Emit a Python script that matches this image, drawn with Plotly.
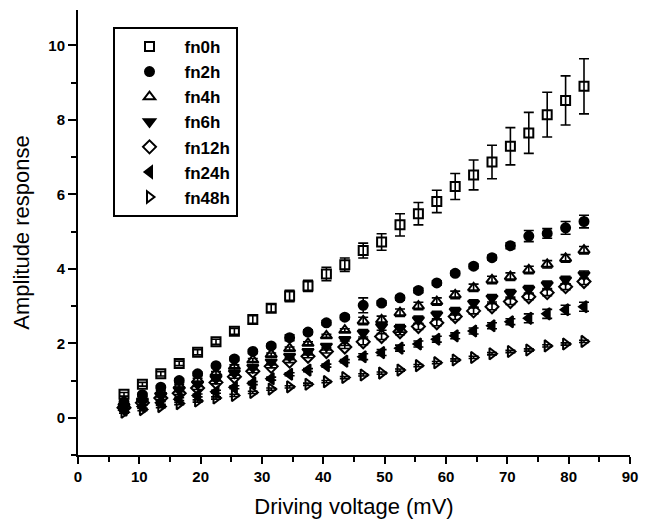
import plotly.graph_objects as go

voltage = [7.5, 10.5, 13.5, 16.5, 19.5, 22.5, 25.5, 28.5, 31.5, 34.5, 37.5, 40.5, 43.5,
           46.5, 49.5, 52.5, 55.5, 58.5, 61.5, 64.5, 67.5, 70.5, 73.5, 76.5, 79.5, 82.5]

fn0h = [0.63, 0.90, 1.18, 1.46, 1.76, 2.04, 2.32, 2.64, 2.94, 3.27, 3.54, 3.86, 4.11,
        4.49, 4.72, 5.18, 5.48, 5.81, 6.21, 6.52, 6.87, 7.29, 7.65, 8.14, 8.52, 8.90]
fn0h_err = [0.05, 0.05, 0.06, 0.06, 0.07, 0.07, 0.08, 0.10, 0.10, 0.15, 0.15, 0.18, 0.18,
            0.20, 0.22, 0.30, 0.30, 0.30, 0.35, 0.40, 0.45, 0.50, 0.55, 0.60, 0.66, 0.74]

fn2h = [0.42, 0.62, 0.82, 1.00, 1.18, 1.40, 1.58, 1.78, 1.93, 2.15, 2.30, 2.55, 2.70,
        3.02, 3.08, 3.22, 3.42, 3.62, 3.88, 4.07, 4.30, 4.62, 4.88, 4.95, 5.10, 5.27]
fn2h_err = [0.04, 0.04, 0.04, 0.05, 0.05, 0.05, 0.05, 0.05, 0.05, 0.08, 0.06, 0.06, 0.06,
            0.20, 0.06, 0.06, 0.06, 0.06, 0.06, 0.06, 0.06, 0.08, 0.15, 0.13, 0.17, 0.17]

fn4h = [0.36, 0.53, 0.70, 0.86, 1.02, 1.20, 1.38, 1.55, 1.70, 1.86, 2.00, 2.20, 2.35,
        2.60, 2.63, 2.82, 3.00, 3.12, 3.30, 3.49, 3.70, 3.79, 3.97, 4.12, 4.28, 4.50]
fn4h_err = [0.04] * 13 + [0.10] * 13

fn6h = [0.30, 0.45, 0.60, 0.75, 0.90, 1.05, 1.20, 1.35, 1.50, 1.65, 1.78, 1.92, 2.10,
        2.27, 2.45, 2.40, 2.63, 2.76, 2.86, 3.07, 3.21, 3.34, 3.45, 3.57, 3.70, 3.84]
fn6h_err = [0.04] * 13 + [0.10] * 13

fn12h = [0.27, 0.40, 0.53, 0.66, 0.80, 0.95, 1.10, 1.25, 1.38, 1.52, 1.65, 1.78, 1.90,
         2.04, 2.18, 2.31, 2.45, 2.55, 2.72, 2.87, 2.98, 3.12, 3.25, 3.36, 3.52, 3.66]
fn12h_err = [0.04] * 13 + [0.08] * 13

fn24h = [0.20, 0.30, 0.40, 0.50, 0.60, 0.70, 0.82, 0.93, 1.05, 1.17, 1.28, 1.40, 1.52,
         1.64, 1.75, 1.87, 1.98, 2.11, 2.20, 2.33, 2.47, 2.58, 2.67, 2.79, 2.90, 2.98]
fn24h_err = [0.04] * 13 + [0.08] * 9 + [0.12] * 4

fn48h = [0.15, 0.22, 0.30, 0.38, 0.45, 0.53, 0.60, 0.68, 0.77, 0.83, 0.90, 0.97, 1.08,
         1.15, 1.20, 1.28, 1.40, 1.48, 1.55, 1.62, 1.72, 1.78, 1.82, 1.93, 1.98, 2.05]
fn48h_err = [0.03] * 26

series_names = ["fn0h", "fn2h", "fn4h", "fn6h", "fn12h", "fn24h", "fn48h"]
series_values = [fn0h, fn2h, fn4h, fn6h, fn12h, fn24h, fn48h]
series_errors = [fn0h_err, fn2h_err, fn4h_err, fn6h_err, fn12h_err, fn24h_err, fn48h_err]
symbols = ["square-open", "circle", "triangle-up-open", "triangle-down",
           "diamond-open", "triangle-left", "triangle-right-open"]
sizes = [9, 9, 10, 10, 10, 10, 10]

fig = go.Figure()
for i, (name, vals, errs, sym, sz) in enumerate(zip(series_names, series_values,
                                                    series_errors, symbols, sizes)):
    fig.add_trace(go.Scatter(
        x=voltage, y=vals, name=name, mode="markers",
        marker=dict(symbol=sym, size=sz, color="black",
                    line=dict(color="black", width=2)),
        error_y=dict(type="data", array=errs, visible=True,
                     color="black", thickness=1.6, width=5),
    ))

font_family = "Liberation Sans, Arial, sans-serif"
fig.update_layout(
    width=647, height=524,
    margin=dict(l=78, r=9, t=10, b=69),
    paper_bgcolor="white", plot_bgcolor="white",
    font=dict(family=font_family, color="black"),
    showlegend=True,
    legend=dict(
        x=0.0625, y=0.962, xanchor="left", yanchor="top",
        bordercolor="black", borderwidth=2, bgcolor="white",
        font=dict(size=17, family=font_family, color="black", weight="bold"),
        itemwidth=60,
    ),
    xaxis=dict(
        range=[0, 90], tickmode="array", tickvals=[0, 10, 20, 30, 40, 50, 60, 70, 80, 90],
        showgrid=False, zeroline=False, showline=True, linecolor="black", linewidth=2,
        ticks="outside", ticklen=7, tickwidth=2, tickcolor="black",
        tickfont=dict(size=15, family=font_family, color="black", weight="bold"),
        minor=dict(dtick=5, tick0=5, ticks="outside", ticklen=5, tickwidth=1.5, tickcolor="black"),
        title=dict(text="Driving voltage (mV)", font=dict(size=22, family=font_family), standoff=15),
    ),
    yaxis=dict(
        range=[-1, 10.95], tickmode="array", tickvals=[0, 2, 4, 6, 8, 10],
        showgrid=False, zeroline=False, showline=True, linecolor="black", linewidth=2,
        ticks="outside", ticklen=8, tickwidth=2, tickcolor="black",
        tickfont=dict(size=15, family=font_family, color="black", weight="bold"),
        minor=dict(dtick=1, tick0=-1, ticks="outside", ticklen=5, tickwidth=1.5, tickcolor="black"),
        title=dict(text="Amplitude response", font=dict(size=22, family=font_family), standoff=13),
    ),
)

fig.write_html(
    "out.html",
    config={"displayModeBar": False},
    post_script="document.body.style.margin='0';document.body.style.overflow='hidden';",
)
